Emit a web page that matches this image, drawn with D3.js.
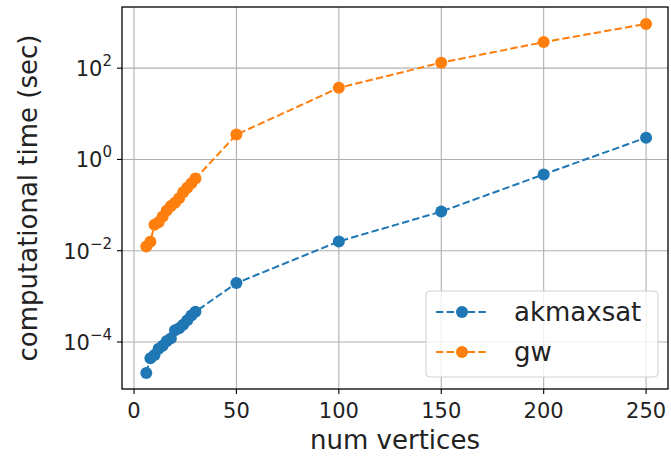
<!DOCTYPE html>
<html>
<head>
<meta charset="utf-8">
<script src="https://cdn.jsdelivr.net/npm/d3@7"></script>
<style>
  body { margin: 0; background: #fff; }
  svg { display: block; font-family: "DejaVu Sans", sans-serif; }
</style>
</head>
<body>
<div id="chart"></div>
<script>
const vertices = [6, 8, 10, 12, 14, 16, 18, 20, 22, 24, 26, 28, 30, 50, 100, 150, 200, 250];
const akmaxsat = [2.1e-5, 4.4e-5, 5.2e-5, 7.1e-5, 8.3e-5, 1.05e-4, 1.2e-4, 1.8e-4, 2.0e-4, 2.4e-4,
                  3.0e-4, 3.8e-4, 4.6e-4, 1.95e-3, 1.6e-2, 7.2e-2, 0.47, 3.0];
const gw = [0.0123, 0.0158, 0.037, 0.042, 0.056, 0.076, 0.095, 0.112, 0.141, 0.19,
            0.24, 0.30, 0.38, 3.5, 37, 132, 372, 933];
const xTicks = [0, 50, 100, 150, 200, 250];
const yExponents = [-4, -2, 0, 2];

const series = [
    { name: 'akmaxsat', color: '#1f77b4', values: akmaxsat },
    { name: 'gw', color: '#ff7f0e', values: gw }
];

const width = 671, height = 456;
const plot = { left: 122, right: 668, top: 7, bottom: 389 };

const svg = d3.select('#chart')
    .append('svg')
    .attr('width', width)
    .attr('height', height);

const x = d3.scaleLinear()
    .domain([-5.86, 260.7])
    .range([plot.left, plot.right]);

const y = d3.scaleLog()
    .domain([Math.pow(10, -5.03), Math.pow(10, 3.34)])
    .range([plot.bottom, plot.top]);

// grid
const grid = svg.append('g');
xTicks.forEach(t => {
    grid.append('line')
        .attr('x1', x(t)).attr('x2', x(t))
        .attr('y1', plot.top).attr('y2', plot.bottom)
        .attr('stroke', '#b0b0b0').attr('stroke-width', 1.1);
});
yExponents.forEach(e => {
    grid.append('line')
        .attr('x1', plot.left).attr('x2', plot.right)
        .attr('y1', y(Math.pow(10, e))).attr('y2', y(Math.pow(10, e)))
        .attr('stroke', '#b0b0b0').attr('stroke-width', 1.1);
});

// series
const line = d3.line()
    .x(d => x(d[0]))
    .y(d => y(d[1]));

series.forEach(s => {
    const pts = vertices.map((v, i) => [v, s.values[i]]);
    svg.append('path')
        .datum(pts)
        .attr('d', line)
        .attr('fill', 'none')
        .attr('stroke', s.color)
        .attr('stroke-width', 2)
        .attr('stroke-dasharray', '7.4,3.2');
    svg.append('g')
        .selectAll('circle')
        .data(pts)
        .join('circle')
        .attr('cx', d => x(d[0]))
        .attr('cy', d => y(d[1]))
        .attr('r', 6)
        .attr('fill', s.color);
});

// frame
svg.append('rect')
    .attr('x', plot.left).attr('y', plot.top)
    .attr('width', plot.right - plot.left)
    .attr('height', plot.bottom - plot.top)
    .attr('fill', 'none')
    .attr('stroke', '#000')
    .attr('stroke-width', 1.3);

// x axis ticks
xTicks.forEach(t => {
    svg.append('line')
        .attr('x1', x(t)).attr('x2', x(t))
        .attr('y1', plot.bottom).attr('y2', plot.bottom + 5)
        .attr('stroke', '#000').attr('stroke-width', 1.1);
    svg.append('text')
        .attr('x', x(t))
        .attr('y', plot.bottom + 29)
        .attr('text-anchor', 'middle')
        .attr('font-size', '21px')
        .attr('fill', '#222')
        .text(t);
});

// y axis ticks
yExponents.forEach(e => {
    const yy = y(Math.pow(10, e));
    svg.append('line')
        .attr('x1', plot.left - 5).attr('x2', plot.left)
        .attr('y1', yy).attr('y2', yy)
        .attr('stroke', '#000').attr('stroke-width', 1.1);
    const label = svg.append('text')
        .attr('x', plot.left - 10)
        .attr('y', yy + 8)
        .attr('text-anchor', 'end')
        .attr('font-size', '21px')
        .attr('fill', '#222');
    label.append('tspan').text('10');
    label.append('tspan')
        .attr('dy', -10)
        .attr('font-size', '15px')
        .text(e < 0 ? '\u2212' + Math.abs(e) : e);
});

// axis labels
svg.append('text')
    .attr('x', (plot.left + plot.right) / 2)
    .attr('y', 449)
    .attr('text-anchor', 'middle')
    .attr('font-size', '26px')
    .attr('fill', '#222')
    .text('num vertices');

svg.append('text')
    .attr('transform', `translate(37,${(plot.top + plot.bottom) / 2}) rotate(-90)`)
    .attr('text-anchor', 'middle')
    .attr('font-size', '26px')
    .attr('fill', '#222')
    .text('computational time (sec)');

// legend
const legend = svg.append('g');
legend.append('rect')
    .attr('x', 426).attr('y', 291)
    .attr('width', 232).attr('height', 86)
    .attr('rx', 4)
    .attr('fill', '#fff')
    .attr('fill-opacity', 0.8)
    .attr('stroke', '#d0d0d0');

series.forEach((s, i) => {
    const ly = 312 + i * 40;
    legend.append('line')
        .attr('x1', 436).attr('x2', 488)
        .attr('y1', ly).attr('y2', ly)
        .attr('stroke', s.color)
        .attr('stroke-width', 2)
        .attr('stroke-dasharray', '7.4,3.2');
    legend.append('circle')
        .attr('cx', 462).attr('cy', ly)
        .attr('r', 6)
        .attr('fill', s.color);
    legend.append('text')
        .attr('x', 514)
        .attr('y', ly)
        .attr('dy', '0.35em')
        .attr('font-size', '26px')
        .attr('fill', '#222')
        .text(s.name);
});
</script>
</body>
</html>
